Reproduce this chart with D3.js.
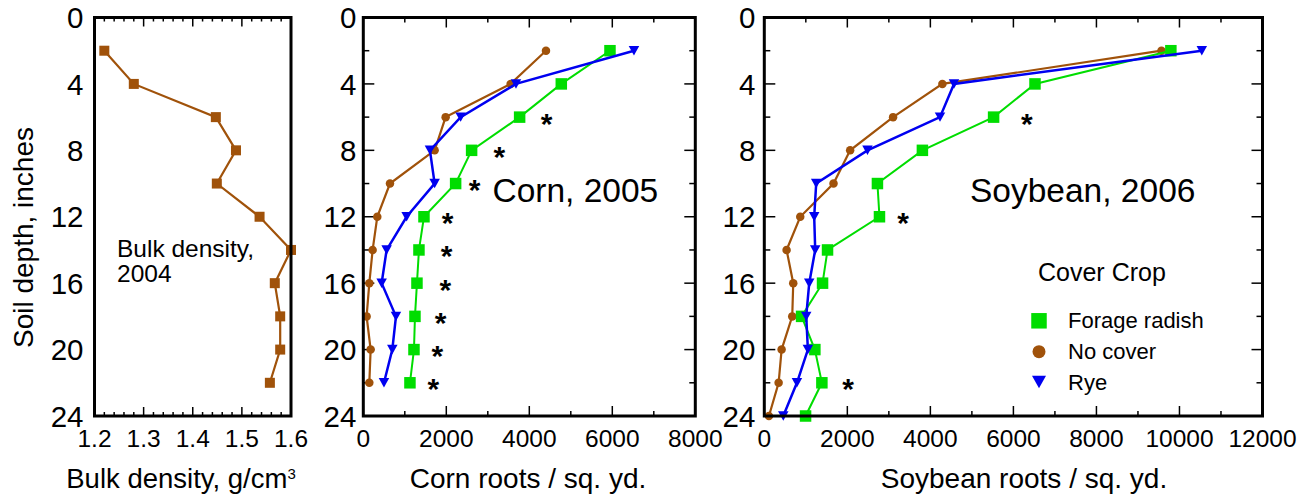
<!DOCTYPE html>
<html>
<head>
<meta charset="utf-8">
<script src="https://cdn.jsdelivr.net/npm/d3@7"></script>
<style>
  body { margin: 0; background: #fff; }
  svg { font-family: "Liberation Sans", Arial, sans-serif; }
</style>
</head>
<body>
<svg width="1305" height="495"></svg>
<script>
// depths (inches)
const depths = [2, 4, 6, 8, 10, 12, 14, 16, 18, 20, 22]
const soyDepths = [2, 4, 6, 8, 10, 12, 14, 16, 18, 20, 22, 24]

// bulk density 2004, g/cm3
const bulkDensity = [1.22, 1.28, 1.447, 1.488, 1.449, 1.536, 1.60, 1.567, 1.578, 1.578, 1.557]

// corn roots / sq. yd., 2005
const cornRadish = [5944, 4771, 3767, 2610, 2225, 1462, 1341, 1293, 1245, 1221, 1124]
const cornNoCover = [4402, 3550, 1984, 1719, 643, 337, 225, 145, 80, 177, 145]
const cornRye = [6522, 3679, 2345, 1606, 1719, 1044, 562, 442, 787, 699, 498]
const cornStarDepths = [6, 8, 10, 12, 14, 16, 18, 20, 22]
const cornStarX = [4418, 3277, 2683, 2032, 2008, 1976, 1863, 1783, 1687]

// soybean roots / sq. yd., 2006
const soyRadish = [9793, 6520, 5523, 3808, 2725, 2774, 1523, 1403, 898, 1218, 1387, 994]
const soyNoCover = [9567, 4289, 3102, 2068, 1667, 866, 537, 697, 673, 417, 345, 112]
const soyRye = [10538, 4569, 4232, 2485, 1250, 1202, 1226, 1082, 1010, 1050, 786, 457]
const soyStarDepths = [6, 12, 22]
const soyStarX = [6325, 3343, 2020]

const legendLabels = ['Forage radish', 'No cover', 'Rye']
const depthTicks = [0, 4, 8, 12, 16, 20, 24]

const GREEN = '#00dd00'
const BROWN = '#a0520a'
const BLUE = '#0000f0'

const svg = d3.select('svg')
const plotTop = 17.5
const plotBottom = 416

const y = d3.scaleLinear().domain([0, 24]).range([plotTop, plotBottom])

function marker (g, shape, color, size) {
  if (shape === 'square') {
    g.append('rect')
      .attr('x', -size / 2).attr('y', -size / 2)
      .attr('width', size).attr('height', size)
      .style('fill', color)
  } else if (shape === 'circle') {
    g.append('circle').attr('r', size / 2).style('fill', color)
  } else {
    g.append('path')
      .attr('d', `M${-size / 2},${-size * 0.45}L${size / 2},${-size * 0.45}L0,${size * 0.45}Z`)
      .style('fill', color)
  }
}

function series (panel, x, xs, ys, shape, color, size, width) {
  const pts = xs.map((v, i) => [x(v), y(ys[i])])
  panel.append('path')
    .attr('d', d3.line()(pts))
    .style('fill', 'none')
    .style('stroke', color)
    .style('stroke-width', width)
  pts.forEach(p => {
    const g = panel.append('g').attr('transform', `translate(${p[0]},${p[1]})`)
    marker(g, shape, color, size)
  })
}

function panel (opt) {
  const x = d3.scaleLinear().domain(opt.domain).range([opt.x0, opt.x1])
  const g = svg.append('g')

  // x ticks, top and bottom, pointing inward
  const xMinor = d3.range(opt.domain[0], opt.domain[1] + opt.minorStep / 2, opt.minorStep)
  xMinor.forEach(v => {
    const isMajor = Math.abs(Math.round(v / opt.majorStep) * opt.majorStep - v) < 1e-9
    const len = isMajor ? opt.xMajorLen : opt.xMinorLen
    g.append('line').attr('x1', x(v)).attr('x2', x(v)).attr('y1', plotTop).attr('y2', plotTop + len)
      .style('stroke', '#000').style('stroke-width', 1.5)
    g.append('line').attr('x1', x(v)).attr('x2', x(v)).attr('y1', plotBottom).attr('y2', plotBottom - len)
      .style('stroke', '#000').style('stroke-width', 1.5)
  })

  // y ticks on both sides
  if (opt.yTicks) {
    d3.range(0, 25, 2).forEach(d => {
      const len = d % 4 === 0 ? 11 : 6
      g.append('line').attr('x1', opt.x0).attr('x2', opt.x0 + len).attr('y1', y(d)).attr('y2', y(d))
        .style('stroke', '#000').style('stroke-width', 1.5)
      g.append('line').attr('x1', opt.x1).attr('x2', opt.x1 - len).attr('y1', y(d)).attr('y2', y(d))
        .style('stroke', '#000').style('stroke-width', 1.5)
    })
  }

  // x tick labels
  g.selectAll('.xl')
    .data(opt.labels)
    .enter().append('text')
    .attr('x', d => x(d))
    .attr('y', 447)
    .style('text-anchor', 'middle')
    .style('font-size', '24.5px')
    .text(d => opt.fmt(d))

  // y tick labels
  g.selectAll('.yl')
    .data(depthTicks)
    .enter().append('text')
    .attr('x', opt.x0 - opt.yGap)
    .attr('y', d => y(d))
    .attr('dy', '0.36em')
    .style('text-anchor', 'end')
    .style('font-size', '29.5px')
    .text(d => d)

  return { g, x }
}

// left: bulk density
const p1 = panel({
  x0: 94.5, x1: 291, domain: [1.2, 1.6], minorStep: 0.02, majorStep: 0.1,
  xMinorLen: 4, xMajorLen: 9, yTicks: false, yGap: 11,
  labels: [1.2, 1.3, 1.4, 1.5, 1.6], fmt: d3.format('.1f')
})
series(p1.g, p1.x, bulkDensity, depths, 'square', BROWN, 10, 2.2)

// middle: corn
const p2 = panel({
  x0: 363.3, x1: 695.3, domain: [0, 8000], minorStep: 1000, majorStep: 2000,
  xMinorLen: 5, xMajorLen: 10, yTicks: true, yGap: 7,
  labels: [0, 2000, 4000, 6000, 8000], fmt: d => d
})
series(p2.g, p2.x, cornNoCover, depths, 'circle', BROWN, 8.5, 2.2)
series(p2.g, p2.x, cornRadish, depths, 'square', GREEN, 11.5, 2)
series(p2.g, p2.x, cornRye, depths, 'triangle', BLUE, 10.5, 2.5)

// right: soybean
const p3 = panel({
  x0: 764.3, x1: 1262.5, domain: [0, 12000], minorStep: 1000, majorStep: 2000,
  xMinorLen: 5, xMajorLen: 10, yTicks: true, yGap: 9,
  labels: [0, 2000, 4000, 6000, 8000, 10000, 12000], fmt: d => d
})
series(p3.g, p3.x, soyNoCover, soyDepths, 'circle', BROWN, 8.5, 2.2)
series(p3.g, p3.x, soyRadish, soyDepths, 'square', GREEN, 11.5, 2)
series(p3.g, p3.x, soyRye, soyDepths, 'triangle', BLUE, 10.5, 2.5)

// frames
;[p1, p2, p3].forEach(p => {
  const r = p.x.range()
  svg.append('rect')
    .attr('x', r[0]).attr('y', plotTop)
    .attr('width', r[1] - r[0]).attr('height', plotBottom - plotTop)
    .style('fill', 'none').style('stroke', '#000').style('stroke-width', 3)
})

// significance asterisks
function stars (p, xs, ds) {
  p.g.selectAll('.star')
    .data(xs)
    .enter().append('text')
    .attr('x', d => p.x(d))
    .attr('y', (d, i) => y(ds[i]))
    .attr('dy', '0.55em')
    .style('text-anchor', 'middle')
    .style('font-size', '30px')
    .style('font-weight', 'bold')
    .text('*')
}
stars(p2, cornStarX, cornStarDepths)
stars(p3, soyStarX, soyStarDepths)

// panel annotations
const bd = svg.append('text').attr('x', 117).attr('y', 256.5).style('font-size', '24.5px')
bd.append('tspan').attr('x', 117).text('Bulk density,')
bd.append('tspan').attr('x', 117).attr('dy', 25).text('2004')
svg.append('text').attr('x', 492.5).attr('y', 201.5).style('font-size', '33.5px').text('Corn, 2005')
svg.append('text').attr('x', 970).attr('y', 201.5).style('font-size', '33.5px').text('Soybean, 2006')

// axis titles
svg.append('text')
  .attr('transform', 'translate(33,237.5) rotate(-90)')
  .style('text-anchor', 'middle')
  .style('font-size', '28px')
  .text('Soil depth, inches')

const bt = svg.append('text').attr('x', 181).attr('y', 488)
  .style('text-anchor', 'middle').style('font-size', '27.5px')
bt.append('tspan').text('Bulk density, g/cm')
bt.append('tspan').attr('dy', -9).style('font-size', '15px').text('3')

svg.append('text').attr('x', 528).attr('y', 488)
  .style('text-anchor', 'middle').style('font-size', '28px')
  .text('Corn roots / sq. yd.')
svg.append('text').attr('x', 1024).attr('y', 488)
  .style('text-anchor', 'middle').style('font-size', '28px')
  .text('Soybean roots / sq. yd.')

// legend
const legend = svg.append('g')
legend.append('text').attr('x', 1038).attr('y', 281).style('font-size', '25px').text('Cover Crop')
const shapes = ['square', 'circle', 'triangle']
const colors = [GREEN, BROWN, BLUE]
const sizes = [15.5, 13, 14]
const rowY = [320.8, 351.7, 382]
legendLabels.forEach((lab, i) => {
  const g = legend.append('g').attr('transform', `translate(1039,${rowY[i]})`)
  marker(g, shapes[i], colors[i], sizes[i])
  legend.append('text').attr('x', 1068).attr('y', rowY[i] + 7.5)
    .style('font-size', '22px').text(lab)
})
</script>
</body>
</html>
